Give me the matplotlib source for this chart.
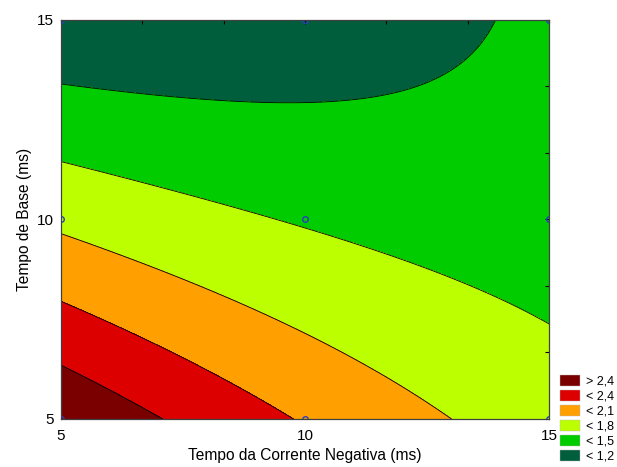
import numpy as np
import matplotlib.pyplot as plt
from matplotlib.patches import Patch

plt.rcParams['font.family'] = ['Liberation Sans', 'DejaVu Sans']

# design points (ms) and response
x_pts = [5, 10, 15, 5, 10, 15, 5, 10, 15]
y_pts = [5, 5, 5, 10, 10, 10, 15, 15, 15]
z_pts = [2.66, 2.09, 1.64, 1.735, 1.48, 1.38, 0.98, 1.02, 1.27]

levels = [1.2, 1.5, 1.8, 2.1, 2.4]
colors = ['#005e3c', '#00cc00', '#bbff00', '#ffa000', '#dd0000', '#7a0000']
legend_labels = ['> 2,4', '< 2,4', '< 2,1', '< 1,8', '< 1,5', '< 1,2']

# quadratic response surface fitted to the design points
u = (np.array(x_pts) - 10) / 5.0
v = (np.array(y_pts) - 10) / 5.0
A = np.column_stack([np.ones_like(u), u, v, u * u, v * v, u * v])
coef, *_ = np.linalg.lstsq(A, np.array(z_pts), rcond=None)

gx, gy = np.meshgrid(np.linspace(5, 15, 200), np.linspace(5, 15, 200))
gu, gv = (gx - 10) / 5.0, (gy - 10) / 5.0
gz = (coef[0] + coef[1] * gu + coef[2] * gv + coef[3] * gu ** 2
      + coef[4] * gv ** 2 + coef[5] * gu * gv)

fig = plt.figure(figsize=(6.17, 4.67), dpi=100)
ax = fig.add_axes([0.0989, 0.1028, 0.7909, 0.8544])

bounds = [-10] + levels + [10]
ax.contourf(gx, gy, gz, levels=bounds, colors=colors)
ax.contour(gx, gy, gz, levels=levels, colors='black', linewidths=0.6)
ax.plot(x_pts, y_pts, 'o', ms=4, mfc='none', mec='#2a3fc0', mew=1.0, clip_on=True)

ax.set_xlim(5, 15)
ax.set_ylim(5, 15)
ax.set_xticks([5, 10, 15])
ax.set_yticks([5, 10, 15])
ax.set_xticks(np.linspace(5, 15, 7), minor=True)
ax.set_yticks(np.linspace(5, 15, 7), minor=True)
ax.tick_params(which='both', direction='in', bottom=False, left=False, top=True, right=True,
               length=3, width=0.8, labelsize=11)
ax.tick_params(axis='x', pad=7)
ax.tick_params(axis='y', pad=5)
for s in ax.spines.values():
    s.set_color('#404040')
    s.set_linewidth(0.9)

ax.set_xlabel('Tempo da Corrente Negativa (ms)', fontsize=11.2, labelpad=4)
ax.set_ylabel('Tempo de Base (ms)', fontsize=11.2, labelpad=4)

handles = [Patch(facecolor=c, edgecolor='#bbbbbb', linewidth=0.3) for c in colors[::-1]]
fig.legend(handles, legend_labels, loc='lower left', bbox_to_anchor=(0.904, 0.004),
           frameon=False, fontsize=9, handlelength=1.6, handleheight=1.05,
           labelspacing=0.15, handletextpad=0.45, borderpad=0.2, borderaxespad=0)

fig.savefig('out.png', dpi=100)
